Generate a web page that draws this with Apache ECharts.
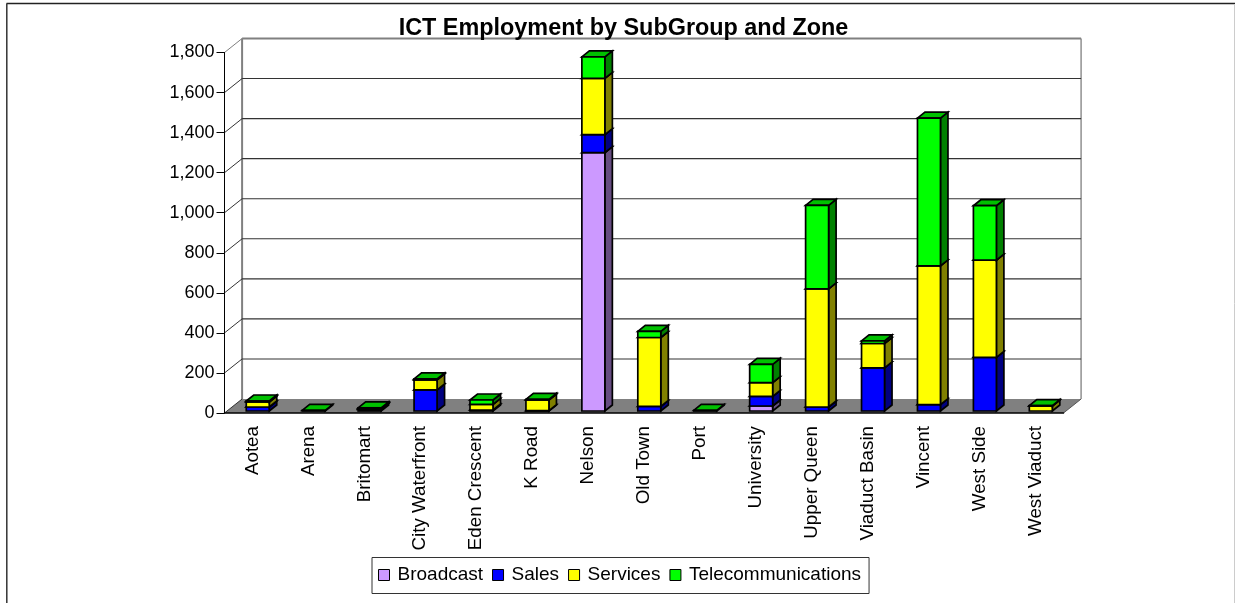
<!DOCTYPE html>
<html><head><meta charset="utf-8">
<script src="https://cdn.jsdelivr.net/npm/echarts@6/dist/echarts.min.js"></script>
<style>html,body{margin:0;padding:0;background:#fff}#c{width:1235px;height:603px}</style></head>
<body><div id="c"></div>
<script>
const zones = ['Aotea','Arena','Britomart','City Waterfront','Eden Crescent','K Road','Nelson','Old Town','Port','University','Upper Queen','Viaduct Basin','Vincent','West Side','West Viaduct'];
const broadcast = [0,0,0,0,0,0,1290,0,0,25,0,0,0,0,0];
const sales = [20,0,8,105,5,2,90,23,0,48,20,215,32,268,0];
const services = [25,0,3,50,28,53,281,344,0,69,590,122,693,485,25];
const telecom = [5,3,5,5,22,3,107,31,3,91,417,13,737,272,2];
const yTicks = [0,200,400,600,800,1000,1200,1400,1600,1800];
const seriesDefs = [
  {name:'Broadcast',values:broadcast,front:'#CC99FF',side:'#664C80',top:'#9973BF'},
  {name:'Sales',values:sales,front:'#0000FF',side:'#000080',top:'#0000C0'},
  {name:'Services',values:services,front:'#FFFF00',side:'#808000',top:'#C0C000'},
  {name:'Telecommunications',values:telecom,front:'#00FF00',side:'#008000',top:'#00C000'}
];
const DX = 17.6, DY = 14;          // wall depth
const BAR_L = -6.2, BAR_W = 23, BAR_LIFT = 2, BDX = 7.5, BDY = 6; // bar placement inside the depth
const LW = 1.7;

function poly(points, fill, stroke, w){
  return {type:'polygon',shape:{points},style:{fill,stroke:stroke||'#000',lineWidth:w==null?LW:w,lineJoin:'miter'}};
}
function line(x1,y1,x2,y2,color,w){
  return {type:'line',shape:{x1,y1,x2,y2},style:{stroke:color,lineWidth:w}};
}
function wallItem(params, api){
  const cs = params.coordSys;
  const v = api.value(0);
  const y = api.coord([0,v])[1];
  const x0 = cs.x, x1 = cs.x+cs.width;
  const kids = [];
  if(v===0){
    kids.push(poly([[x0,y],[x1,y],[x1+DX,y-DY],[x0+DX,y-DY]],'#808080','none',0));
    kids.push(line(x0+DX,cs.y-DY,x0+DX,y-DY,'#808080',2));
    kids.push(line(x1+DX,cs.y-DY,x1+DX,y-DY,'#909090',1.5));
    kids.push(line(x1,y,x1+DX,y-DY,'#555',1));
    kids.push(line(x0,y,x0+DX,y-DY,'#333',1));
  } else {
    const top = v===yTicks[yTicks.length-1];
    kids.push(line(x0+DX,y-DY,x1+DX,y-DY,top?'#808080':'#333',top?2:1.1));
    kids.push(line(x0,y,x0+DX,y-DY,top?'#808080':'#333',1));
  }
  return {type:'group',children:kids};
}
function barItem(params, api){
  const i = api.value(0), lo = api.value(1), hi = api.value(2);
  if(hi<=lo) return null;
  const cx = api.coord([i,0])[0];
  const yb = api.coord([i,lo])[1]-BAR_LIFT, yt = api.coord([i,hi])[1]-BAR_LIFT;
  const xl = cx+BAR_L, xr = xl+BAR_W;
  const d = seriesDefs[params.seriesIndex-1];
  return {type:'group',children:[
    poly([[xr,yt],[xr+BDX,yt-BDY],[xr+BDX,yb-BDY],[xr,yb]],d.side),
    poly([[xl,yt],[xl+BDX,yt-BDY],[xr+BDX,yt-BDY],[xr,yt]],d.top),
    poly([[xl,yt],[xr,yt],[xr,yb],[xl,yb]],d.front)
  ]};
}
const barSeries = seriesDefs.map((d,k)=>({
  name:d.name,type:'custom',z:3,clip:false,silent:true,
  itemStyle:{color:d.front},
  renderItem:barItem,
  encode:{x:0,y:2},
  data:d.values.map((v,i)=>{
    let base=0; for(let j=0;j<k;j++) base+=seriesDefs[j].values[i];
    return [i,base,base+v];
  })
}));
const chart = echarts.init(document.getElementById('c'),null,{renderer:'canvas'});
const FONT='"Liberation Sans",Arial,sans-serif';
chart.setOption({
  animation:false,
  backgroundColor:'#fff',
  title:{text:'ICT Employment by SubGroup and Zone',left:618.5,top:12,textAlign:'center',
    textStyle:{fontFamily:FONT,fontWeight:'bold',fontSize:23.4,color:'#000'}},
  grid:{left:224.5,right:171.5,top:52.5,height:360.5,containLabel:false},
  legend:{left:372,top:557.5,orient:'horizontal',padding:[8,8,9,6],itemWidth:11,itemHeight:11,itemGap:9,
    borderColor:'#333',borderWidth:1,backgroundColor:'#fff',selectedMode:false,icon:'rect',
    itemStyle:{borderColor:'#000',borderWidth:1},
    textStyle:{fontFamily:FONT,fontSize:19,color:'#000',padding:[0,0,0,3]},
    data:seriesDefs.map(d=>d.name)},
  xAxis:{type:'category',data:zones,z:5,
    axisLine:{lineStyle:{color:'#000',width:1.5}},
    axisTick:{alignWithLabel:false,length:7,lineStyle:{color:'#000',width:1}},
    axisLabel:{rotate:90,interval:0,margin:13,fontFamily:FONT,fontSize:18.8,color:'#000'}},
  yAxis:{type:'value',min:0,max:1800,interval:200,z:5,
    axisLine:{show:true,lineStyle:{color:'#000',width:1}},
    axisTick:{show:true,length:8,lineStyle:{color:'#000',width:1}},
    splitLine:{show:false},
    axisLabel:{margin:10,fontFamily:FONT,fontSize:18,color:'#000'}},
  series:[{type:'custom',name:'wall',z:1,clip:false,silent:true,renderItem:wallItem,encode:{y:0},data:yTicks.map(v=>[v])},
    ...barSeries],
  graphic:[
    {type:'line',shape:{x1:6.5,y1:3.5,x2:1235,y2:3.5},style:{stroke:'#222',lineWidth:1.5},silent:true},
    {type:'line',shape:{x1:6.8,y1:3.5,x2:6.8,y2:603},style:{stroke:'#333',lineWidth:1.5},silent:true},
    {type:'line',shape:{x1:1234.5,y1:4,x2:1234.5,y2:603},style:{stroke:'#ccc',lineWidth:1},silent:true}
  ]
});
</script></body></html>
